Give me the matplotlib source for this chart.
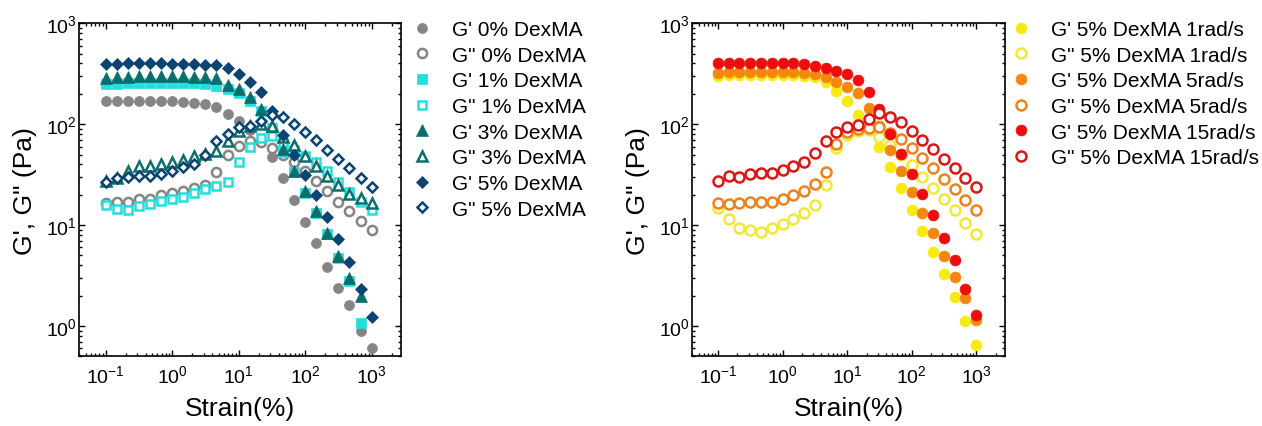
import matplotlib
matplotlib.use("Agg")
import matplotlib.pyplot as plt
import numpy as np

plt.rcParams['font.family'] = ['Liberation Sans', 'DejaVu Sans']
plt.rcParams['mathtext.fontset'] = 'custom'
plt.rcParams['mathtext.rm'] = 'Liberation Sans'
plt.rcParams['mathtext.it'] = 'Liberation Sans:italic'
plt.rcParams['mathtext.bf'] = 'Liberation Sans:bold'
plt.rcParams['axes.unicode_minus'] = False

nan = np.nan

# strain sweep (%)
strain = [0.1, 0.147, 0.215, 0.316, 0.464, 0.681, 1, 1.47, 2.15, 3.16, 4.64, 6.81,
          10, 14.7, 21.5, 31.6, 46.4, 68.1, 100, 147, 215, 316, 464, 681, 1000]

# left panel: DexMA concentration
g1_0 = [168, 170, 171, 171, 170, 169, 168, 166, 164, 160, 147, 126, 108, 88, 66, 47,
        29, 17.7, 10.8, 6.6, 3.85, 2.4, 1.62, 0.89, 0.6]
g2_0 = [16.5, 17.1, 16.8, 18.1, 18.3, 19.8, 20.6, 21.9, 23.2, 25.1, 33.3, 49.8, 61, 68,
        66, 58, 50, 42, 34, 27.5, 22, 17, 13.8, 11, 8.9]
g1_1 = [250, 252, 254, 255, 256, 256, 256, 255, 254, 252, 241, 223, 203, 171, 136, 91,
        52.5, 33.3, 21, 13.3, 8.1, 4.77, 2.8, 1.08, nan]
g2_1 = [15.9, 14.6, 14.2, 15.5, 16.1, 17.4, 18.1, 19.1, 20.7, 22.7, 24.5, 26.9, 42.4,
        59.7, 72.2, 75.6, 65, 56, 48, 42, 34, 27, 21.4, 17, 14]
g1_3 = [285, 292, 296, 298, 300, 300, 300, 299, 297, 294, 284, 244, 223, 184, 141, 95,
        56.6, 34.5, 21.9, 13.8, 8.4, 4.95, 3.02, 1.99, nan]
g2_3 = [27.5, 29.5, 34.5, 38.7, 38.7, 40.2, 42.4, 44.4, 48.6, 50.5, 54.5, 68.5, 86, 95,
        100, 95, 74, 62, 48.6, 38.7, 30.8, 25, 20.2, 18.5, 16.5]
g1_5 = [395, 398, 400, 400, 400, 400, 398, 396, 393, 388, 385, 360, 314, 264, 207, 136,
        77.8, 49.3, 31.2, 19.8, 12.0, 7.24, 4.35, 2.31, 1.23]
g2_5 = [27, 29, 30, 30.5, 31, 32, 34, 37.8, 40, 50, 68.5, 80, 93, 96, 108, 123, 117,
        100, 84, 69.5, 55, 45, 36.4, 29, 23.6]

# right panel: 5% DexMA at different frequencies
g1_f1 = [300, 305, 307, 308, 308, 308, 307, 306, 303, 295, 260, 215, 168, 123, 90, 60,
         37.8, 23.1, 14.2, 8.8, 5.35, 3.26, 1.94, 1.12, 0.64]
g2_f1 = [14.9, 11.6, 9.46, 8.97, 8.63, 9.25, 10.2, 11.4, 13.1, 15.7, 24.9, 58.7, 78, 86,
         88, 75, 62, 50, 39, 30, 23.5, 18, 14, 10.6, 8.1]
g1_f5 = [325, 328, 330, 330, 330, 330, 329, 327, 324, 315, 291, 264, 235, 202, 144, 95,
         55.3, 34.5, 21.1, 13.3, 8.4, 4.95, 3.06, 1.91, 1.14]
g2_f5 = [16.4, 16.1, 16.5, 17, 17, 17.1, 18.1, 19.8, 21.9, 25.5, 33.7, 63.5, 82.9, 89.3,
         90.7, 93, 82, 71, 58, 46.1, 36.4, 28.5, 22.7, 17.7, 14.1]
g1_f15 = [400, 403, 404, 404, 404, 404, 403, 400, 392, 380, 357, 339, 314, 276, 207, 140,
          79.8, 50.5, 32, 20.3, 12.6, 7.5, 4.5, 2.35, 1.28]
g2_f15 = [27.5, 30.8, 30.1, 32, 32.5, 33.2, 35, 38.1, 41.8, 51.3, 68.5, 82.9, 92.9, 98,
          112, 129, 119, 104, 86, 69.5, 56.6, 45.7, 36.4, 29.6, 24.1]

left_series = [
    (g1_0, "G' 0% DexMA", 'o', '#858585', True, 7.2),
    (g2_0, 'G" 0% DexMA', 'o', '#858585', False, 6.6),
    (g1_1, "G' 1% DexMA", 's', '#22dede', True, 6.5),
    (g2_1, 'G" 1% DexMA', 's', '#22dede', False, 6.0),
    (g1_3, "G' 3% DexMA", '^', '#0c6e6c', True, 8.0),
    (g2_3, 'G" 3% DexMA', '^', '#0c6e6c', False, 7.4),
    (g1_5, "G' 5% DexMA", 'D', '#0b4472', True, 6.1),
    (g2_5, 'G" 5% DexMA', 'D', '#0b4472', False, 5.6),
]
right_series = [
    (g1_f1, "G' 5% DexMA 1rad/s", 'o', '#f7ea10', True, 7.8),
    (g2_f1, 'G" 5% DexMA 1rad/s', 'o', '#f3e836', False, 7.2),
    (g1_f5, "G' 5% DexMA 5rad/s", 'o', '#f5870e', True, 7.8),
    (g2_f5, 'G" 5% DexMA 5rad/s', 'o', '#f0821e', False, 7.2),
    (g1_f15, "G' 5% DexMA 15rad/s", 'o', '#ee0d0d', True, 7.8),
    (g2_f15, 'G" 5% DexMA 15rad/s', 'o', '#dd1515', False, 7.2),
]

fig = plt.figure(figsize=(12.62, 4.27), dpi=100)
ax1 = fig.add_axes([0.0628, 0.1632, 0.2552, 0.7798])
ax2 = fig.add_axes([0.5486, 0.1632, 0.2478, 0.7798])


def draw(ax, series, legend_x):
    for vals, label, mk, col, filled, ms in series:
        if filled:
            ax.plot(strain, vals, linestyle='none', marker=mk, ms=ms, color=col,
                    mec=col, mew=0.5, label=label)
        else:
            ax.plot(strain, vals, linestyle='none', marker=mk, ms=ms, mfc='white',
                    mec=col, mew=1.8, label=label)
    ax.set_xscale('log')
    ax.set_yscale('log')
    ax.set_xlim(0.04, 2800)
    ax.set_ylim(0.5, 1000)
    ax.set_xticks([0.1, 1, 10, 100, 1000])
    ax.set_yticks([1, 10, 100, 1000])
    ax.tick_params(which='both', direction='in', top=True, right=True, width=1)
    ax.tick_params(which='major', length=4.5, labelsize=14)
    ax.tick_params(which='minor', length=2.5)
    ax.tick_params(axis='y', pad=2)
    ax.tick_params(axis='x', pad=6)
    for s in ax.spines.values():
        s.set_linewidth(1.2)
    ax.set_xlabel('Strain(%)', fontsize=19, labelpad=7)
    ax.set_ylabel('G\', G" (Pa)', fontsize=19, labelpad=6)
    fig.legend(*ax.get_legend_handles_labels(), loc='upper left',
               bbox_to_anchor=(legend_x, 0.951), frameon=False, fontsize=15,
               handlelength=1.0, handletextpad=0.95, labelspacing=0.32,
               borderpad=0, borderaxespad=0, numpoints=1)


draw(ax1, left_series, 411.3 / 1262)
draw(ax2, right_series, 1010.6 / 1262)

fig.savefig('out.png', dpi=100)
